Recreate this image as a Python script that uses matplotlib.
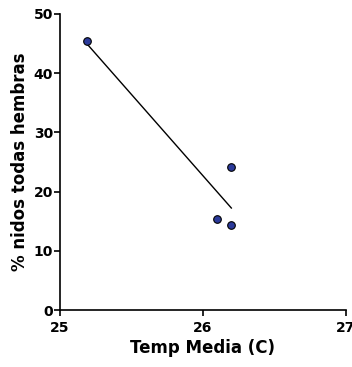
import matplotlib
matplotlib.use("Agg")
import matplotlib.pyplot as plt
import numpy as np

temp = [25.19, 26.10, 26.20, 26.20]
pct = [45.4, 15.4, 14.4, 24.2]
xticks = [25, 26, 27]
yticks = [0, 10, 20, 30, 40, 50]

plt.rcParams['font.family'] = ['DejaVu Sans']
fig = plt.figure(figsize=(3.52, 3.67), dpi=100)
ax = fig.add_axes([0.170, 0.155, 0.812, 0.807])

x = np.array(temp); y = np.array(pct)
m, b = np.polyfit(x, y, 1)
xl = np.array([x.min(), x.max()])
ax.plot(xl, m * xl + b, color='black', lw=1.0, zorder=2)
ax.scatter(x, y, s=30, color='#2b3a9a', edgecolor='black', linewidth=0.8, zorder=3, clip_on=False)

ax.set_xlim(25, 27)
ax.set_ylim(0, 50)
ax.set_xticks(xticks)
ax.set_yticks(yticks)
ax.set_xticklabels([str(t) for t in xticks], fontweight='bold', fontsize=10)
ax.set_yticklabels([str(t) for t in yticks], fontweight='bold', fontsize=10)
for s in ['top', 'right']:
    ax.spines[s].set_visible(False)
for s in ['left', 'bottom']:
    ax.spines[s].set_linewidth(1.2)
ax.tick_params(axis='y', direction='out', length=4, width=1.2, pad=1)
ax.tick_params(axis='x', direction='out', length=4, width=1.2, pad=4)
ax.set_xlabel('Temp Media (C)', fontweight='bold', fontsize=12, labelpad=3)
ax.set_ylabel('% nidos todas hembras', fontweight='bold', fontsize=12, labelpad=3)
fig.savefig('out.png', dpi=100)
